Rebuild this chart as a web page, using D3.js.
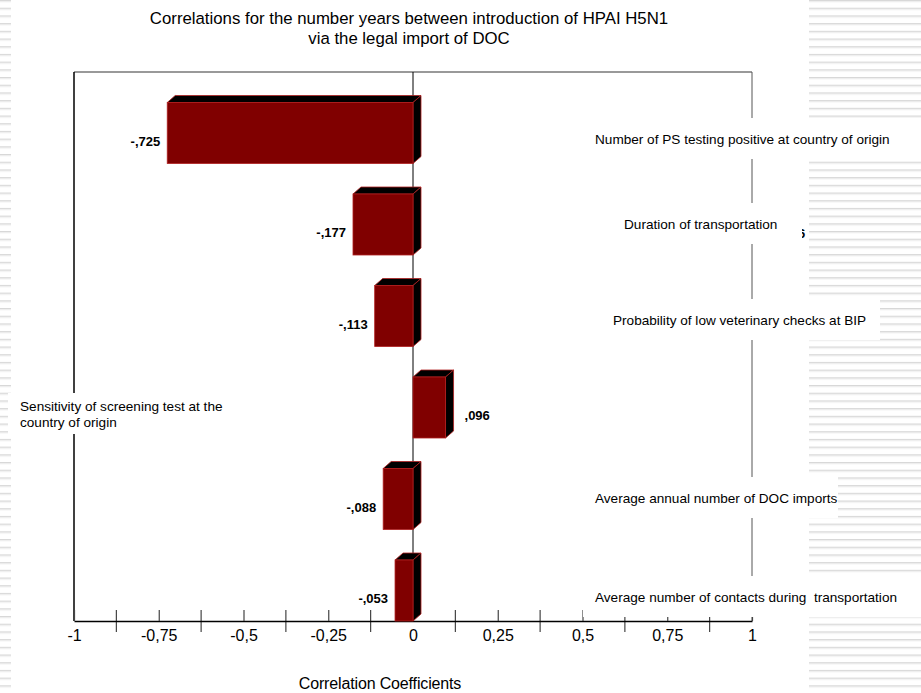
<!DOCTYPE html>
<html>
<head>
<meta charset="utf-8">
<script src="https://cdn.jsdelivr.net/npm/d3@7"></script>
<style>
  html, body { margin: 0; padding: 0; background: #fff; }
  svg { display: block; font-family: Arial, "Liberation Sans", sans-serif; }
  svg text { white-space: pre; }
</style>
</head>
<body>
<svg id="chart" width="921" height="693"></svg>
<script>
// Tornado chart of correlation coefficients
const categories = [
  "Number of PS testing positive at country of origin",
  "Duration of transportation",
  "Probability of low veterinary checks at BIP",
  "Sensitivity of screening test at the country of origin",
  "Average annual number of DOC imports",
  "Average number of contacts during  transportation"
];
const values = [-0.725, -0.177, -0.113, 0.096, -0.088, -0.053];
const tickValues = [-1, -0.75, -0.5, -0.25, 0, 0.25, 0.5, 0.75, 1];
const minorTickValues = [-0.875, -0.625, -0.375, -0.125, 0.125, 0.375, 0.625, 0.875];
const titleLines = [
  "Correlations for the number years between introduction of HPAI H5N1",
  "via the legal import of DOC"
];
const axisTitle = "Correlation Coefficients";

// label layout: text start x, vertical offset from bar centre, white box right edge
const labelX = [595, 624, 613, 20, 595, 595];
const labelDy = [6.5, 0, 4.5, 7, -0.5, 7];
const labelBoxRight = [921, 802, 880, 255, 838, 921];
const labelLines = [
  [categories[0]], [categories[1]], [categories[2]],
  ["Sensitivity of screening test at the", "country of origin"],
  [categories[4]], [categories[5]]
];

const W = 921, H = 693;
const plot = { left: 74, right: 752, top: 72, bottom: 621 };
const depthX = 8, depthY = 7;

const svg = d3.select("#chart");

// comma decimal locale
const loc = d3.formatLocale({ decimal: ",", thousands: ".", grouping: [3], currency: ["", ""], minus: "-" });
const tickFmt = v => loc.format("~g")(v);
const valFmt = v => loc.format(".3f")(v).replace(/^(-?)0,/, "$1,");

// striped slide background at both edges
const defs = svg.append("defs");
const pat = defs.append("pattern")
  .attr("id", "stripes").attr("patternUnits", "userSpaceOnUse")
  .attr("width", 10).attr("height", 7.7);
pat.append("rect").attr("width", 10).attr("height", 7.7).attr("fill", "#fff");
pat.append("rect").attr("y", 0).attr("width", 10).attr("height", 1.2).attr("fill", "#d8d8d8");
pat.append("rect").attr("y", 1.2).attr("width", 10).attr("height", 1.0).attr("fill", "#ebebeb");
svg.append("rect").attr("x", 0).attr("y", 0).attr("width", 11).attr("height", H).attr("fill", "url(#stripes)");
svg.append("rect").attr("x", 809).attr("y", 0).attr("width", W - 809).attr("height", H).attr("fill", "url(#stripes)");

const x = d3.scaleLinear().domain([-1, 1]).range([plot.left, plot.right]);
const y = d3.scaleBand().domain(categories).range([plot.top, plot.bottom]);
const bw = y.bandwidth();
const barTop = c => y(c) + bw / 3;
const barH = bw * 2 / 3;

// frame
svg.append("line").attr("x1", plot.left).attr("x2", plot.right).attr("y1", plot.top).attr("y2", plot.top)
  .attr("stroke", "#777").attr("stroke-width", 1.5);
svg.append("line").attr("x1", plot.right).attr("x2", plot.right).attr("y1", plot.top).attr("y2", plot.bottom)
  .attr("stroke", "#555").attr("stroke-width", 1);
svg.append("line").attr("x1", plot.left).attr("x2", plot.left).attr("y1", plot.top).attr("y2", plot.bottom)
  .attr("stroke", "#000").attr("stroke-width", 1.5);

// zero line
svg.append("line").attr("x1", x(0)).attr("x2", x(0)).attr("y1", plot.top).attr("y2", plot.bottom)
  .attr("stroke", "#000").attr("stroke-width", 1);

// minor ticks crossing the axis
svg.append("g").selectAll("line").data(minorTickValues).join("line")
  .attr("x1", d => x(d)).attr("x2", d => x(d))
  .attr("y1", plot.bottom - 11).attr("y2", plot.bottom + 11)
  .attr("stroke", "#444").attr("stroke-width", 1.2);

// bottom axis
const axis = d3.axisBottom(x).tickValues(tickValues).tickFormat(tickFmt)
  .tickSizeInner(-11).tickSizeOuter(0).tickPadding(9);
const gAxis = svg.append("g").attr("transform", `translate(0,${plot.bottom})`).call(axis);
gAxis.select(".domain").attr("stroke", "#000").attr("stroke-width", 1.5);
gAxis.selectAll(".tick line").attr("stroke", "#444").attr("stroke-width", 1.2);
gAxis.selectAll(".tick text").attr("font-size", 16).attr("fill", "#000")
  .attr("font-family", "Arial, 'Liberation Sans', sans-serif");

// 3D bars
const bars = svg.append("g").selectAll("g").data(values.map((v, i) => ({ v, c: categories[i], i }))).join("g");
bars.each(function(d) {
  const g = d3.select(this);
  const x0 = Math.min(x(0), x(d.v)), x1 = Math.max(x(0), x(d.v));
  const t = barTop(d.c), b = t + barH;
  g.append("polygon")
    .attr("points", [[x0, t], [x0 + depthX, t - depthY], [x1 + depthX, t - depthY], [x1, t]].join(" "))
    .attr("fill", "#000").attr("stroke", "#b02020").attr("stroke-width", 0.8);
  g.append("polygon")
    .attr("points", [[x1, t], [x1 + depthX, t - depthY], [x1 + depthX, b - depthY], [x1, b]].join(" "))
    .attr("fill", "#000").attr("stroke", "#b02020").attr("stroke-width", 0.8);
  g.append("rect").attr("x", x0).attr("y", t).attr("width", x1 - x0).attr("height", barH)
    .attr("fill", "#800000").attr("stroke", "#b02020").attr("stroke-width", 0.8);
  // value label
  const neg = d.v < 0;
  g.append("text")
    .attr("x", neg ? x0 - 7 : x1 + depthX + 11)
    .attr("y", t + barH / 2 + 8)
    .attr("dy", "0.35em")
    .attr("text-anchor", neg ? "end" : "start")
    .attr("font-size", 13).attr("font-weight", "bold").attr("fill", "#000")
    .text(valFmt(d.v));
});

// stray glyph partly hidden behind the second label box
svg.append("text").attr("x", 798).attr("y", 238).attr("font-size", 13).attr("font-weight", "bold").text("6");

// category labels on white boxes, opposite side from the bar
categories.forEach((c, i) => {
  const lines = labelLines[i];
  const cy = barTop(c) + barH / 2 + labelDy[i];
  const lh = 16;
  const g = svg.append("g");
  const bx = labelX[i] - 12;
  const boxH = 41;
  g.append("rect").attr("x", bx).attr("y", cy - boxH / 2 - 1).attr("width", labelBoxRight[i] - bx).attr("height", boxH)
    .attr("fill", "#fff");
  lines.forEach((ln, k) => {
    g.append("text")
      .attr("x", labelX[i])
      .attr("y", cy + (k - (lines.length - 1) / 2) * lh)
      .attr("dy", "0.35em")
      .attr("font-size", 13.6).attr("fill", "#000")
      .text(ln);
  });
});

// titles
svg.append("g").selectAll("text").data(titleLines).join("text")
  .attr("x", 409).attr("y", (d, i) => 18 + i * 20).attr("dy", "0.35em")
  .attr("text-anchor", "middle").attr("font-size", 16.8).attr("fill", "#000")
  .text(d => d);
svg.append("text").attr("x", 380).attr("y", 683).attr("dy", "0.35em")
  .attr("text-anchor", "middle").attr("font-size", 16).attr("letter-spacing", -0.15).attr("fill", "#000")
  .text(axisTitle);
</script>
</body>
</html>
